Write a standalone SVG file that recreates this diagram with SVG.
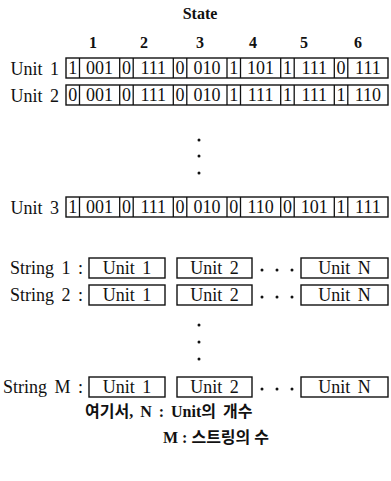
<svg xmlns="http://www.w3.org/2000/svg" xmlns:xlink="http://www.w3.org/1999/xlink" width="391" height="481" viewBox="0 0 391 481">
  <style>
    .t { font-family: 'Liberation Serif', 'Times New Roman', 'DejaVu Serif', 'Noto Sans CJK KR', serif; font-size: 18px; fill: #111; }
    .b { font-weight: bold; font-size: 16px; }
    .c { text-anchor: middle; }
    .r { text-anchor: end; }
    .k { font-family: 'Liberation Serif', 'Times New Roman', 'Noto Sans CJK KR', serif; font-size: 16px; font-weight: bold; fill: #111; }
    .box { fill: #fff; stroke: #111; stroke-width: 1.4; }
    .div { fill: none; stroke: #111; stroke-width: 1.3; }
    .dot { fill: #111; }
  </style>
  <defs>
    <!-- one chromosome row: 6 states, each a 1-bit cell followed by a 3-bit cell -->
    <g id="cells">
      <rect class="box" x="66" y="0" width="322" height="20"/>
      <path class="div" d="M79.5 0V20M119.7 0V20M133.2 0V20M173.3 0V20M186.8 0V20M227 0V20M240.5 0V20M280.7 0V20M294.2 0V20M334.3 0V20M347.8 0V20"/>
    </g>
  </defs>

  <rect width="391" height="481" fill="#fff"/>

  <!-- header -->
  <g id="header">
    <text class="t b c" x="200" y="19">State</text>
    <text class="t b c" x="93" y="48">1</text>
    <text class="t b c" x="144" y="48">2</text>
    <text class="t b c" x="200" y="48">3</text>
    <text class="t b c" x="253" y="48">4</text>
    <text class="t b c" x="304" y="48">5</text>
    <text class="t b c" x="358" y="48">6</text>
  </g>

  <!-- unit rows -->
  <g id="unit1">
    <text class="t r" x="59" y="75" word-spacing="3">Unit 1</text>
    <use xlink:href="#cells" y="58"/>
    <g class="t c">
      <text x="72.8" y="74">1</text><text x="99.6" y="74">001</text>
      <text x="126.4" y="74">0</text><text x="153.3" y="74">111</text>
      <text x="180.1" y="74">0</text><text x="206.9" y="74">010</text>
      <text x="233.8" y="74">1</text><text x="260.6" y="74">101</text>
      <text x="287.4" y="74">1</text><text x="314.3" y="74">111</text>
      <text x="341.1" y="74">0</text><text x="367.9" y="74">111</text>
    </g>
  </g>

  <g id="unit2">
    <text class="t r" x="59" y="102" word-spacing="3">Unit 2</text>
    <use xlink:href="#cells" y="85"/>
    <g class="t c">
      <text x="72.8" y="101">0</text><text x="99.6" y="101">001</text>
      <text x="126.4" y="101">0</text><text x="153.3" y="101">111</text>
      <text x="180.1" y="101">0</text><text x="206.9" y="101">010</text>
      <text x="233.8" y="101">1</text><text x="260.6" y="101">111</text>
      <text x="287.4" y="101">1</text><text x="314.3" y="101">111</text>
      <text x="341.1" y="101">1</text><text x="367.9" y="101">110</text>
    </g>
  </g>

  <g id="unit-dots">
    <circle class="dot" cx="199" cy="140" r="1.5"/>
    <circle class="dot" cx="199" cy="156" r="1.5"/>
    <circle class="dot" cx="199" cy="173" r="1.5"/>
  </g>

  <g id="unit3">
    <text class="t r" x="59" y="214" word-spacing="3">Unit 3</text>
    <use xlink:href="#cells" y="197"/>
    <g class="t c">
      <text x="72.8" y="213">1</text><text x="99.6" y="213">001</text>
      <text x="126.4" y="213">0</text><text x="153.3" y="213">111</text>
      <text x="180.1" y="213">0</text><text x="206.9" y="213">010</text>
      <text x="233.8" y="213">0</text><text x="260.6" y="213">110</text>
      <text x="287.4" y="213">0</text><text x="314.3" y="213">101</text>
      <text x="341.1" y="213">1</text><text x="367.9" y="213">111</text>
    </g>
  </g>

  <!-- string rows -->
  <g id="string1">
    <text class="t r" x="83" y="274" word-spacing="3">String 1 :</text>
    <rect class="box" x="89" y="258" width="76" height="20"/>
    <text class="t c" x="127" y="274" word-spacing="3">Unit 1</text>
    <rect class="box" x="177" y="258" width="75" height="20"/>
    <text class="t c" x="214.5" y="274" word-spacing="3">Unit 2</text>
    <circle class="dot" cx="262" cy="270" r="1.5"/>
    <circle class="dot" cx="277" cy="270" r="1.5"/>
    <circle class="dot" cx="292" cy="270" r="1.5"/>
    <rect class="box" x="301" y="258" width="87" height="20"/>
    <text class="t c" x="344.5" y="274" word-spacing="3">Unit N</text>
  </g>

  <g id="string2">
    <text class="t r" x="83" y="301" word-spacing="3">String 2 :</text>
    <rect class="box" x="89" y="285" width="76" height="20"/>
    <text class="t c" x="127" y="301" word-spacing="3">Unit 1</text>
    <rect class="box" x="177" y="285" width="75" height="20"/>
    <text class="t c" x="214.5" y="301" word-spacing="3">Unit 2</text>
    <circle class="dot" cx="262" cy="297" r="1.5"/>
    <circle class="dot" cx="277" cy="297" r="1.5"/>
    <circle class="dot" cx="292" cy="297" r="1.5"/>
    <rect class="box" x="301" y="285" width="87" height="20"/>
    <text class="t c" x="344.5" y="301" word-spacing="3">Unit N</text>
  </g>

  <g id="string-dots">
    <circle class="dot" cx="199" cy="325" r="1.5"/>
    <circle class="dot" cx="199" cy="342" r="1.5"/>
    <circle class="dot" cx="199" cy="359" r="1.5"/>
  </g>

  <g id="stringM">
    <text class="t r" x="83" y="393" word-spacing="3">String M :</text>
    <rect class="box" x="89" y="377" width="76" height="20"/>
    <text class="t c" x="127" y="393" word-spacing="3">Unit 1</text>
    <rect class="box" x="177" y="377" width="75" height="20"/>
    <text class="t c" x="214.5" y="393" word-spacing="3">Unit 2</text>
    <circle class="dot" cx="262" cy="389" r="1.5"/>
    <circle class="dot" cx="277" cy="389" r="1.5"/>
    <circle class="dot" cx="292" cy="389" r="1.5"/>
    <rect class="box" x="301" y="377" width="87" height="20"/>
    <text class="t c" x="344.5" y="393" word-spacing="3">Unit N</text>
  </g>

  <!-- legend -->
  <g id="legend">
    <text class="k" x="85" y="417" word-spacing="3">여기서, N : Unit의 개수</text>
    <text class="k" x="163" y="443">M : 스트링의 수</text>
  </g>
</svg>
